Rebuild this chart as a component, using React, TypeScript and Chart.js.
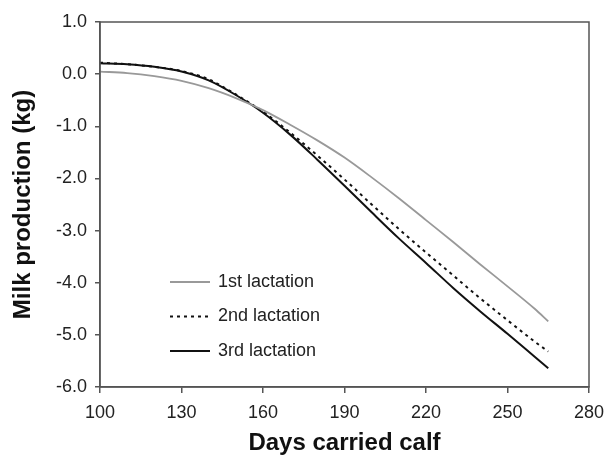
import React, { useEffect, useRef } from "react";
import { Chart, registerables } from "chart.js";

Chart.register(...registerables);

const days = [100, 110, 120, 130, 140, 150, 160, 170, 180, 190, 200, 210, 220, 230, 240, 250, 260, 265];
const lact1 = [0.05, 0.02, -0.04, -0.13, -0.27, -0.46, -0.69, -0.97, -1.27, -1.6, -1.98, -2.38, -2.8, -3.22, -3.65, -4.07, -4.5, -4.74];
const lact2 = [0.22, 0.19, 0.14, 0.06, -0.1, -0.39, -0.72, -1.12, -1.56, -2.02, -2.5, -2.97, -3.42, -3.86, -4.3, -4.72, -5.13, -5.32];
const lact3 = [0.21, 0.19, 0.14, 0.05, -0.12, -0.4, -0.74, -1.16, -1.64, -2.14, -2.65, -3.15, -3.62, -4.1, -4.55, -4.98, -5.42, -5.64];
const seriesNames = ["1st lactation", "2nd lactation", "3rd lactation"];
const xTitle = "Days carried calf";
const yTitle = "Milk production (kg)";

const FONT = "'Liberation Sans', Arial, sans-serif";
const AXIS = "#555";

const boxPlugin = {
  id: "box",
  afterDatasetsDraw(chart: any) {
    const { ctx, chartArea } = chart;
    ctx.save();
    ctx.strokeStyle = AXIS;
    ctx.lineWidth = 1.5;
    ctx.strokeRect(chartArea.left, chartArea.top, chartArea.right - chartArea.left, chartArea.bottom - chartArea.top);
    ctx.restore();
  },
};

const legendPlugin = {
  id: "inlineLegend",
  afterDraw(chart: any) {
    const { ctx, chartArea } = chart;
    const x0 = chartArea.left + 70;
    const y0 = chartArea.top + 260;
    const gap = 34.5;
    ctx.save();
    chart.data.datasets.forEach((ds: any, i: number) => {
      const y = y0 + i * gap;
      ctx.strokeStyle = ds.borderColor;
      ctx.lineWidth = ds.borderWidth;
      ctx.setLineDash(ds.borderDash || []);
      ctx.beginPath();
      ctx.moveTo(x0, y);
      ctx.lineTo(x0 + 40, y);
      ctx.stroke();
      ctx.setLineDash([]);
      ctx.fillStyle = "#222";
      ctx.font = `18px ${FONT}`;
      ctx.textBaseline = "middle";
      ctx.textAlign = "left";
      ctx.fillText(ds.label, x0 + 48, y);
    });
    ctx.restore();
  },
};

export default function App() {
  const ref = useRef<HTMLCanvasElement>(null);
  useEffect(() => {
    if (!ref.current) return;
    const mk = (vals: number[]) => days.map((d, i) => ({ x: d, y: vals[i] }));
    const chart = new Chart(ref.current, {
      type: "line",
      data: {
        datasets: [
          { label: seriesNames[0], data: mk(lact1), borderColor: "#999999", borderWidth: 1.8, pointRadius: 0, cubicInterpolationMode: "monotone" },
          { label: seriesNames[1], data: mk(lact2), borderColor: "#111111", borderWidth: 2, borderDash: [3, 4], pointRadius: 0, cubicInterpolationMode: "monotone" },
          { label: seriesNames[2], data: mk(lact3), borderColor: "#111111", borderWidth: 2, pointRadius: 0, cubicInterpolationMode: "monotone" },
        ] as any,
      },
      options: {
        responsive: false,
        animation: false,
        layout: { padding: { top: 22, right: 19, left: 0, bottom: 0 } },
        plugins: { legend: { display: false }, tooltip: { enabled: false } },
        scales: {
          x: {
            type: "linear",
            min: 100,
            max: 280,
            afterFit: (s: any) => { s.height = 68; s.paddingRight = 0; s.paddingLeft = 0; },
            ticks: { stepSize: 30, padding: 9, color: "#222", font: { family: FONT, size: 18 }, maxRotation: 0 },
            grid: { display: true, drawOnChartArea: false, drawTicks: true, tickLength: 6, color: AXIS, lineWidth: 1.5 },
            border: { display: true, color: AXIS, width: 1.5 },
            title: { display: true, text: xTitle, color: "#111", font: { family: FONT, size: 24, weight: "bold", lineHeight: 1 }, padding: { top: 0, bottom: 0 } },
          },
          y: {
            type: "linear",
            min: -6,
            max: 1,
            afterFit: (s: any) => { s.width = 100; s.paddingTop = 0; s.paddingBottom = 0; },
            ticks: { stepSize: 1, padding: 8, color: "#222", font: { family: FONT, size: 18 }, callback: (v: any) => Number(v).toFixed(1) },
            grid: { display: true, drawOnChartArea: false, drawTicks: true, tickLength: 5, color: AXIS, lineWidth: 1.5 },
            border: { display: true, color: AXIS, width: 1.5 },
            title: { display: true, text: yTitle, color: "#111", font: { family: FONT, size: 24, weight: "bold", lineHeight: 1 }, padding: { top: 11, bottom: 0 } },
          },
        },
      },
      plugins: [boxPlugin, legendPlugin],
    });
    return () => chart.destroy();
  }, []);
  return (
    <canvas
      ref={ref}
      width={608}
      height={455}
      style={{ position: "absolute", left: 0, top: 0, display: "block", background: "#fff" }}
    />
  );
}
